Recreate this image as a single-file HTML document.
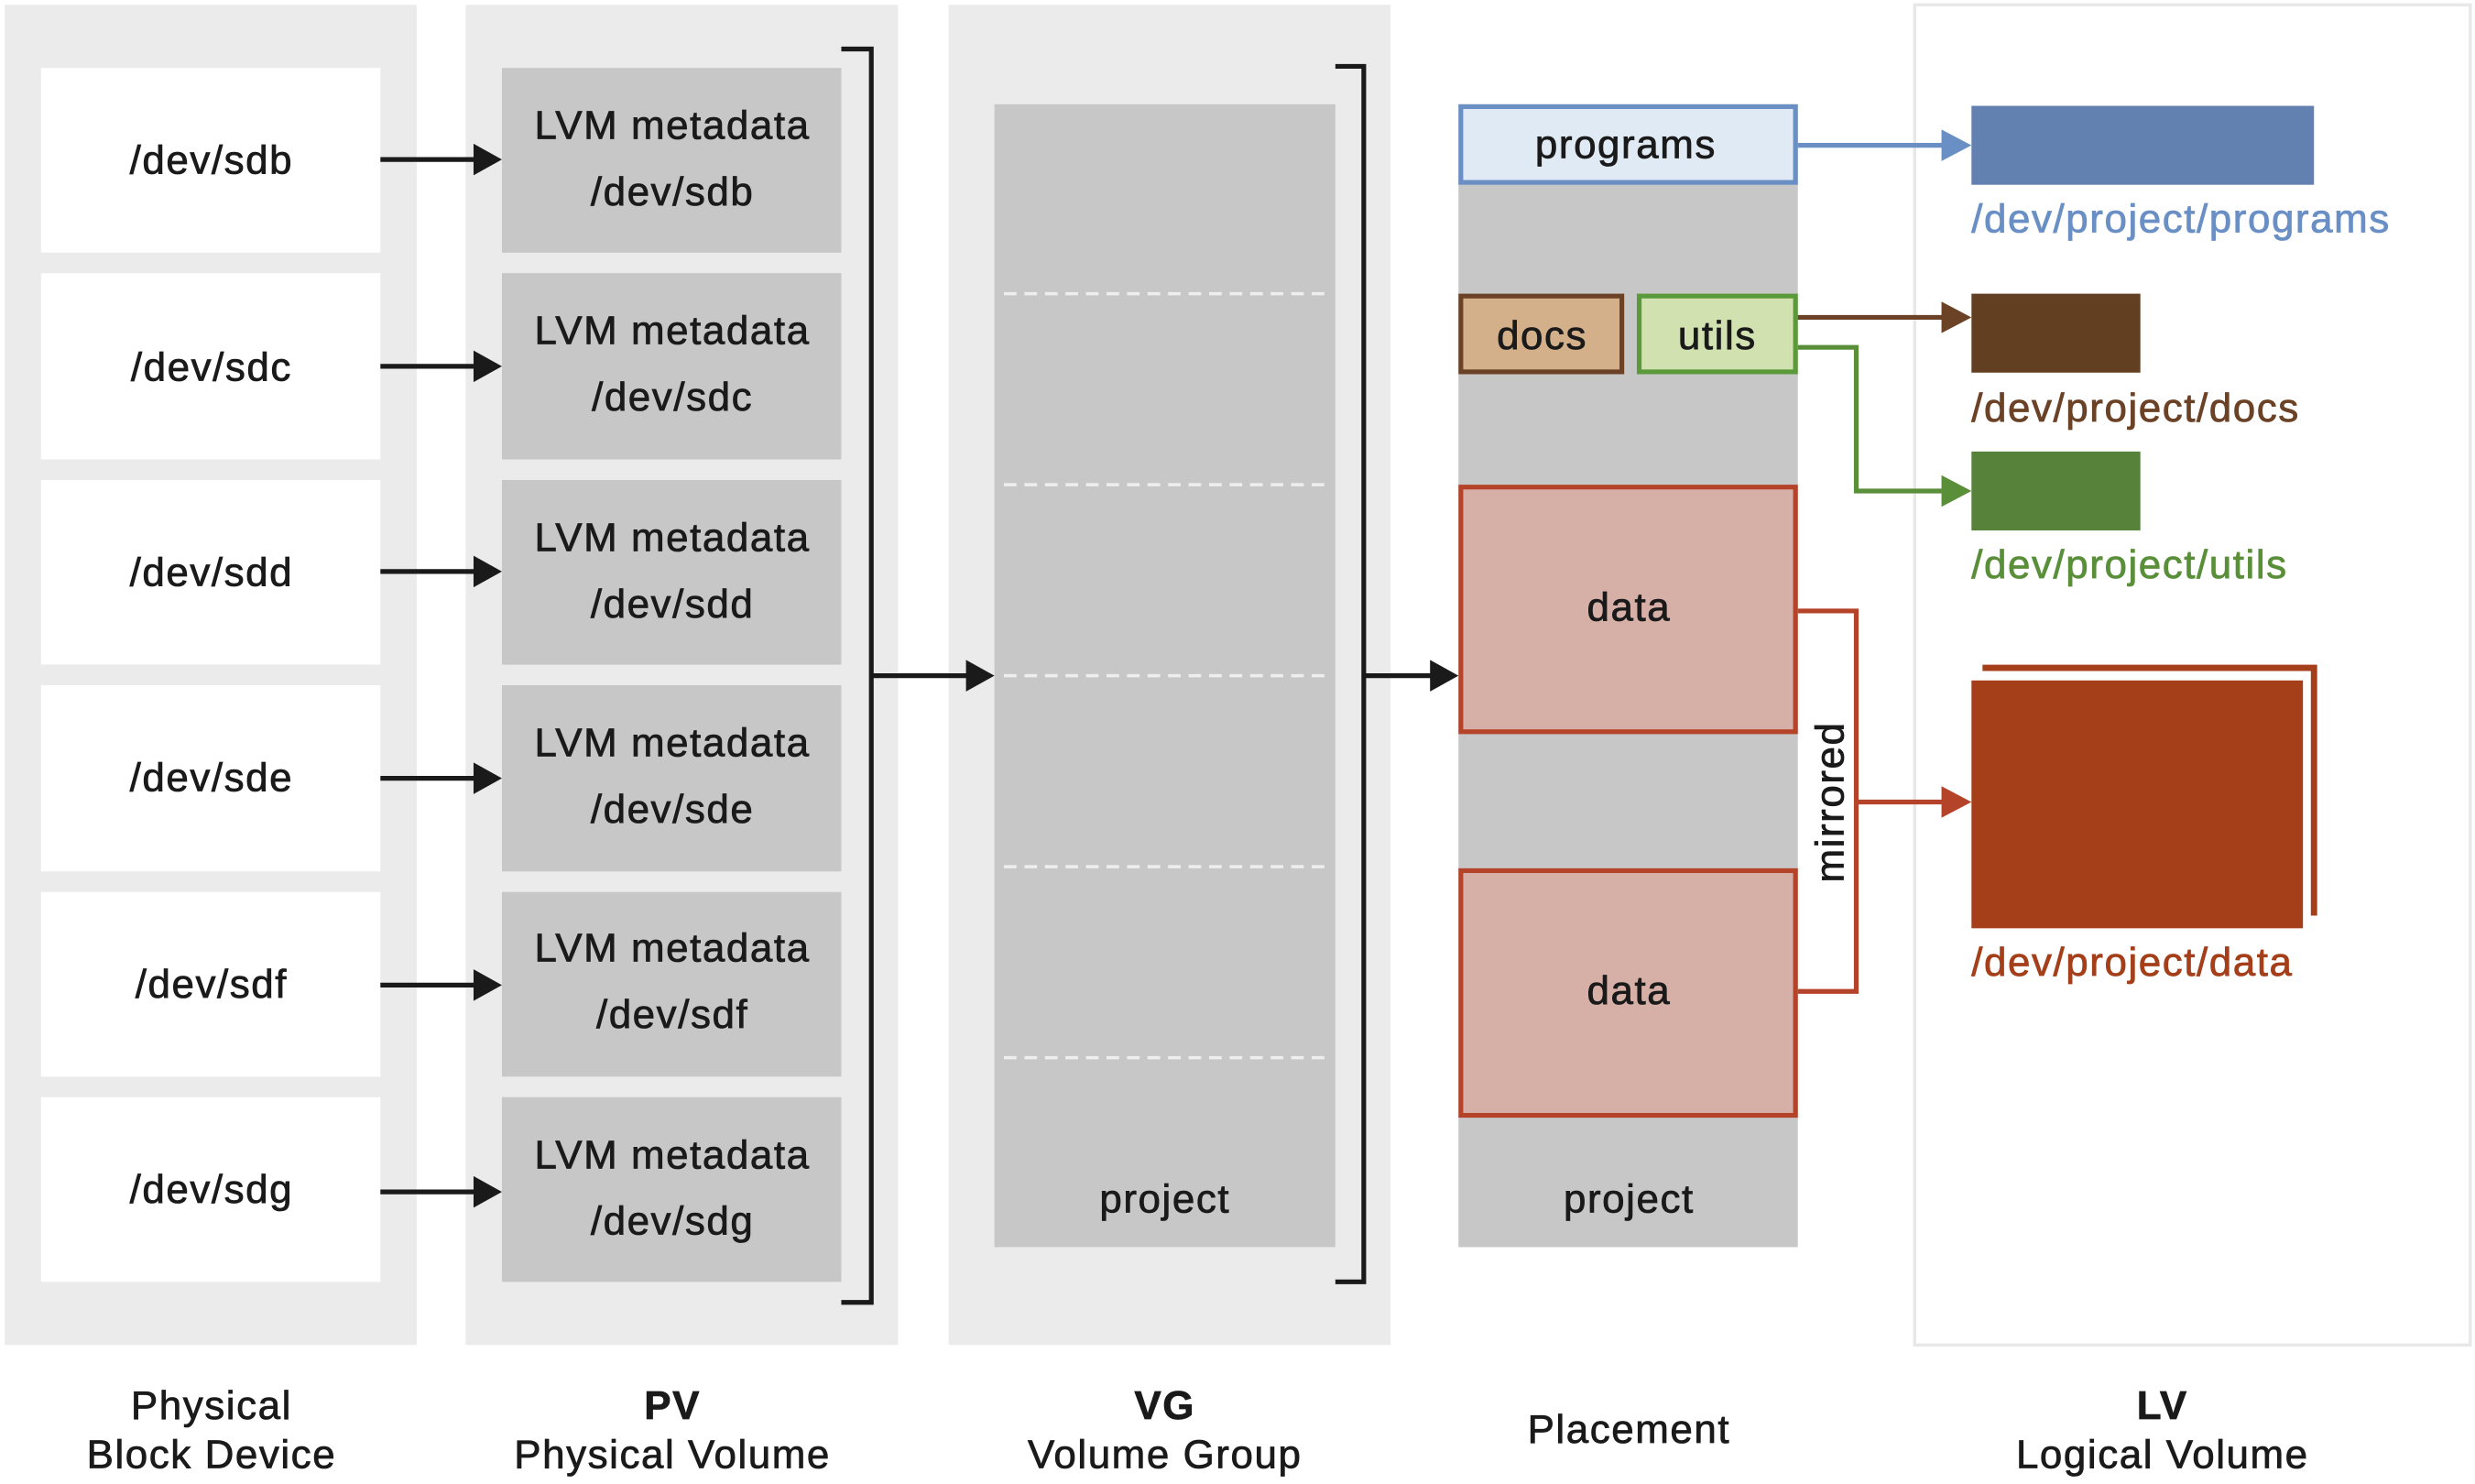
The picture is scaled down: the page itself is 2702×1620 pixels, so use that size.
<!DOCTYPE html>
<html><head><meta charset="utf-8"><style>
html,body{margin:0;padding:0;background:#fff;}
svg{display:block;}
text{font-family:"Liberation Sans",sans-serif;fill:#1a1a1a;stroke:#1a1a1a;stroke-width:0.45;font-size:25.5px;letter-spacing:0.9px;}
</style></head><body>
<svg width="2702" height="1620" viewBox="0 0 1568 940" xmlns="http://www.w3.org/2000/svg">
<!-- column backgrounds -->
<rect x="3" y="3" width="261" height="849" fill="#ebebeb"/>
<rect x="295" y="3" width="274" height="849" fill="#ebebeb"/>
<rect x="601" y="3" width="280" height="849" fill="#ebebeb"/>
<rect x="1213" y="3" width="352" height="849" fill="#fff" stroke="#e8e8e8" stroke-width="2"/>

<g>
<rect x="26" y="43" width="215" height="117" fill="#fff"/>
<rect x="26" y="173" width="215" height="118" fill="#fff"/>
<rect x="26" y="304" width="215" height="117" fill="#fff"/>
<rect x="26" y="434" width="215" height="118" fill="#fff"/>
<rect x="26" y="565" width="215" height="117" fill="#fff"/>
<rect x="26" y="695" width="215" height="117" fill="#fff"/>
<rect x="318" y="43" width="215" height="117" fill="#c7c7c7"/>
<rect x="318" y="173" width="215" height="118" fill="#c7c7c7"/>
<rect x="318" y="304" width="215" height="117" fill="#c7c7c7"/>
<rect x="318" y="434" width="215" height="118" fill="#c7c7c7"/>
<rect x="318" y="565" width="215" height="117" fill="#c7c7c7"/>
<rect x="318" y="695" width="215" height="117" fill="#c7c7c7"/>
</g>
<g text-anchor="middle">
<text x="134" y="110">/dev/sdb</text>
<text x="134" y="241">/dev/sdc</text>
<text x="134" y="371">/dev/sdd</text>
<text x="134" y="501">/dev/sde</text>
<text x="134" y="632">/dev/sdf</text>
<text x="134" y="762">/dev/sdg</text>
<text x="426" y="88">LVM metadata</text><text x="426" y="130">/dev/sdb</text>
<text x="426" y="218">LVM metadata</text><text x="426" y="260">/dev/sdc</text>
<text x="426" y="349">LVM metadata</text><text x="426" y="391">/dev/sdd</text>
<text x="426" y="479">LVM metadata</text><text x="426" y="521">/dev/sde</text>
<text x="426" y="609">LVM metadata</text><text x="426" y="651">/dev/sdf</text>
<text x="426" y="740">LVM metadata</text><text x="426" y="782">/dev/sdg</text>
</g>
<g stroke="#1a1a1a" stroke-width="3">
<line x1="241" y1="101" x2="302" y2="101"/>
<line x1="241" y1="232" x2="302" y2="232"/>
<line x1="241" y1="362" x2="302" y2="362"/>
<line x1="241" y1="493" x2="302" y2="493"/>
<line x1="241" y1="624" x2="302" y2="624"/>
<line x1="241" y1="755" x2="302" y2="755"/>
</g>
<g fill="#1a1a1a">
<path d="M300,91 L318,101 L300,111Z"/>
<path d="M300,222 L318,232 L300,242Z"/>
<path d="M300,352 L318,362 L300,372Z"/>
<path d="M300,483 L318,493 L300,503Z"/>
<path d="M300,614 L318,624 L300,634Z"/>
<path d="M300,745 L318,755 L300,765Z"/>
</g>
<path d="M533,31 H552 V825 H533" fill="none" stroke="#1a1a1a" stroke-width="3"/>
<line x1="552" y1="428" x2="614" y2="428" stroke="#1a1a1a" stroke-width="3"/>
<path d="M612,418 L630,428 L612,438Z" fill="#1a1a1a"/>

<!-- VG -->
<rect x="630" y="66" width="216" height="724" fill="#c7c7c7"/>
<g stroke="#eeeeee" stroke-width="2" stroke-dasharray="8,5">
<line x1="636" y1="186" x2="842" y2="186"/>
<line x1="636" y1="307" x2="842" y2="307"/>
<line x1="636" y1="428" x2="842" y2="428"/>
<line x1="636" y1="549" x2="842" y2="549"/>
<line x1="636" y1="670" x2="842" y2="670"/>
</g>
<text x="738" y="768" text-anchor="middle">project</text>
<path d="M846,42 H864 V812 H846" fill="none" stroke="#1a1a1a" stroke-width="3"/>
<line x1="864" y1="428" x2="908" y2="428" stroke="#1a1a1a" stroke-width="3"/>
<path d="M906,418 L924,428 L906,438Z" fill="#1a1a1a"/>

<!-- Placement -->
<rect x="924" y="66" width="215" height="724" fill="#c7c7c7"/>
<rect x="925.5" y="67.5" width="212" height="48" fill="#dfeaf4" stroke="#6a8fc5" stroke-width="3"/>
<rect x="925.5" y="187.5" width="102" height="48" fill="#d4b08a" stroke="#6b4226" stroke-width="3"/>
<rect x="1038.5" y="187.5" width="99" height="48" fill="#d1e2b0" stroke="#5a9a3a" stroke-width="3"/>
<rect x="925.5" y="308.5" width="212" height="155" fill="#d6afa7" stroke="#b5432a" stroke-width="3"/>
<rect x="925.5" y="551.5" width="212" height="155" fill="#d6afa7" stroke="#b5432a" stroke-width="3"/>
<g text-anchor="middle">
<text x="1030" y="100">programs</text>
<text x="977" y="221">docs</text>
<text x="1088" y="221">utils</text>
<text x="1032" y="393">data</text>
<text x="1032" y="636">data</text>
<text x="1032" y="768">project</text>
</g>
<line x1="1139" y1="92" x2="1232" y2="92" stroke="#6a8fc5" stroke-width="3"/>
<path d="M1230,82 L1249,92 L1230,102Z" fill="#6a8fc5"/>
<line x1="1139" y1="201" x2="1232" y2="201" stroke="#6b4226" stroke-width="3"/>
<path d="M1230,191 L1249,201 L1230,211Z" fill="#6b4226"/>
<path d="M1139,220 H1176 V311 H1232" fill="none" stroke="#5a8f3a" stroke-width="3"/>
<path d="M1230,301 L1249,311 L1230,321Z" fill="#5a8f3a"/>
<path d="M1139,387 H1176 V628 H1139" fill="none" stroke="#b5432a" stroke-width="3"/>
<line x1="1176" y1="508" x2="1232" y2="508" stroke="#b5432a" stroke-width="3"/>
<path d="M1230,498 L1249,508 L1230,518Z" fill="#b5432a"/>
<text x="0" y="0" text-anchor="middle" transform="translate(1168,508) rotate(-90)">mirrored</text>

<!-- LV -->
<rect x="1249" y="67" width="217" height="50" fill="#6281b0"/>
<rect x="1249" y="186" width="107" height="50" fill="#633f22"/>
<rect x="1249" y="286" width="107" height="50" fill="#56823a"/>
<path d="M1256,423 H1466 V580" fill="none" stroke="#a43f1a" stroke-width="4"/>
<rect x="1249" y="431" width="210" height="157" fill="#a43f1a"/>
<text x="1249" y="147" style="fill:#6a8fc5;stroke:#6a8fc5">/dev/project/programs</text>
<text x="1249" y="267" style="fill:#6b4226;stroke:#6b4226">/dev/project/docs</text>
<text x="1249" y="366" style="fill:#5a8f3a;stroke:#5a8f3a">/dev/project/utils</text>
<text x="1249" y="618" style="fill:#a43f1a;stroke:#a43f1a">/dev/project/data</text>

<g text-anchor="middle">
<text x="134" y="899">Physical</text><text x="134" y="930">Block Device</text>
<text x="426" y="899" font-weight="bold">PV</text><text x="426" y="930">Physical Volume</text>
<text x="738" y="899" font-weight="bold">VG</text><text x="738" y="930">Volume Group</text>
<text x="1032" y="914">Placement</text>
<text x="1370" y="899" font-weight="bold">LV</text><text x="1370" y="930">Logical Volume</text>
</g>
</svg>
</body></html>
